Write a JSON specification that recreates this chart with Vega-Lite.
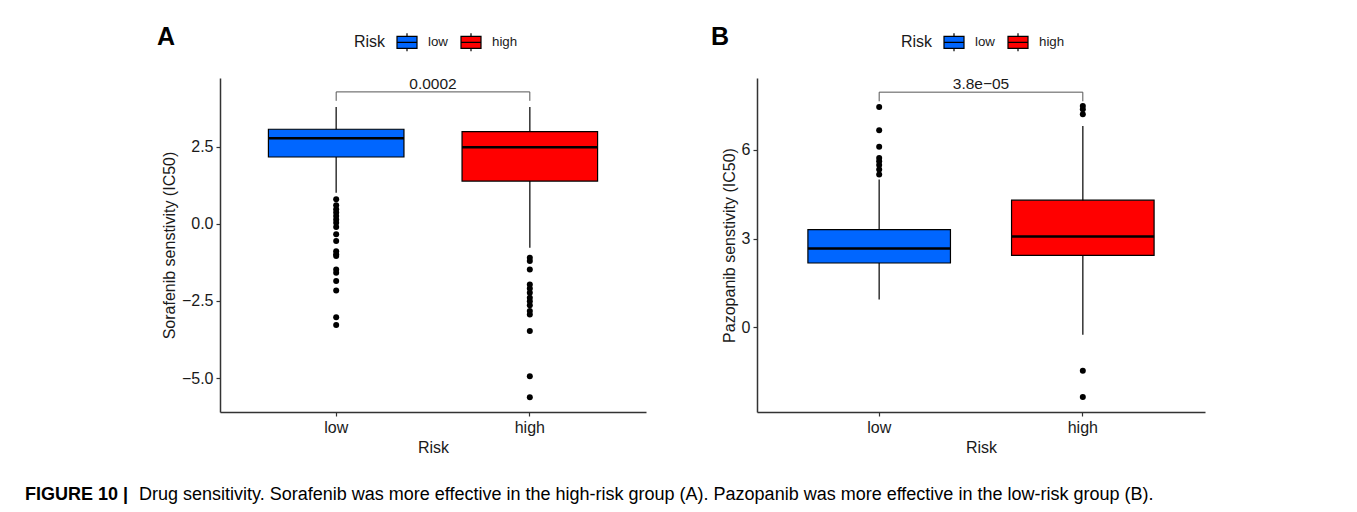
{
  "$schema": "https://vega.github.io/schema/vega-lite/v6.json",
  "background": "white",
  "padding": {"left": 25, "top": 25, "right": 5, "bottom": 0},
  "config": {
    "font": "Liberation Sans",
    "view": {"stroke": null},
    "axis": {"grid": false, "domainColor": "#333333", "domainWidth": 1.5, "tickColor": "#333333", "tickWidth": 1.2, "tickSize": 4, "labelColor": "#1a1a1a", "labelFontSize": 16, "titleFontSize": 16, "titleFontWeight": "normal", "titleColor": "#1a1a1a", "labelPadding": 3},
    "legend": {"orient": "none", "direction": "horizontal", "titleOrient": "left", "titleFontSize": 16, "titleFontWeight": "normal", "titleColor": "#1a1a1a", "labelFontSize": 13.3, "labelColor": "#1a1a1a", "symbolType": "M-1,-0.6H1V0.6H-1Z M-1,0H1 M0,-0.6V-0.9 M0,0.6V0.9", "symbolSize": 400, "symbolStrokeColor": "black", "symbolStrokeWidth": 1.2, "symbolOpacity": 1, "labelOffset": 10, "columnPadding": 10, "titlePadding": 10}
  },
  "datasets": {
    "statsA": [
      {"risk": "low", "lower": 1.0, "q1": 2.16, "median": 2.77, "q3": 3.06, "upper": 3.78},
      {"risk": "high", "lower": -0.78, "q1": 1.38, "median": 2.48, "q3": 2.98, "upper": 3.78}
    ],
    "outA": [
      {"risk": "low", "value": 0.79}, {"risk": "low", "value": 0.6}, {"risk": "low", "value": 0.47}, {"risk": "low", "value": 0.36}, {"risk": "low", "value": 0.25}, {"risk": "low", "value": 0.14}, {"risk": "low", "value": 0.03}, {"risk": "low", "value": -0.11}, {"risk": "low", "value": -0.34}, {"risk": "low", "value": -0.56}, {"risk": "low", "value": -0.89}, {"risk": "low", "value": -0.99}, {"risk": "low", "value": -1.05}, {"risk": "low", "value": -1.48}, {"risk": "low", "value": -1.59}, {"risk": "low", "value": -1.86}, {"risk": "low", "value": -2.16}, {"risk": "low", "value": -3.03}, {"risk": "low", "value": -3.28},
      {"risk": "high", "value": -1.1}, {"risk": "high", "value": -1.21}, {"risk": "high", "value": -1.48}, {"risk": "high", "value": -1.97}, {"risk": "high", "value": -2.1}, {"risk": "high", "value": -2.24}, {"risk": "high", "value": -2.4}, {"risk": "high", "value": -2.51}, {"risk": "high", "value": -2.64}, {"risk": "high", "value": -2.83}, {"risk": "high", "value": -2.94}, {"risk": "high", "value": -3.48}, {"risk": "high", "value": -4.94}, {"risk": "high", "value": -5.62}
    ],
    "brA": [
      {"risk": "low", "y": 3.98, "ord": 1}, {"risk": "low", "y": 4.27, "ord": 2}, {"risk": "high", "y": 4.27, "ord": 3}, {"risk": "high", "y": 3.98, "ord": 4}
    ],
    "pA": [{"risk": "low", "y": 4.27, "label": "0.0002"}],
    "statsB": [
      {"risk": "low", "lower": 0.93, "q1": 2.17, "median": 2.66, "q3": 3.3, "upper": 5.0},
      {"risk": "high", "lower": -0.26, "q1": 2.43, "median": 3.07, "q3": 4.3, "upper": 6.81}
    ],
    "outB": [
      {"risk": "low", "value": 7.46}, {"risk": "low", "value": 6.67}, {"risk": "low", "value": 6.11}, {"risk": "low", "value": 5.73}, {"risk": "low", "value": 5.62}, {"risk": "low", "value": 5.49}, {"risk": "low", "value": 5.34}, {"risk": "low", "value": 5.17},
      {"risk": "high", "value": 7.49}, {"risk": "high", "value": 7.38}, {"risk": "high", "value": 7.21}, {"risk": "high", "value": -1.48}, {"risk": "high", "value": -2.37}
    ],
    "brB": [
      {"risk": "low", "y": 7.65, "ord": 1}, {"risk": "low", "y": 7.96, "ord": 2}, {"risk": "high", "y": 7.96, "ord": 3}, {"risk": "high", "y": 7.65, "ord": 4}
    ],
    "pB": [{"risk": "low", "y": 7.96, "label": "3.8e\u221205"}]
  },
  "title": {"text": "FIGURE 10 |", "orient": "bottom", "anchor": "start", "frame": "bounds", "dx": -114, "fontSize": 18, "fontWeight": "bold", "color": "black", "offset": -18},
  "vconcat": [
    {
      "title": {"text": "Drug sensitivity. Sorafenib was more effective in the high-risk group (A). Pazopanib was more effective in the low-risk group (B).", "orient": "bottom", "anchor": "start", "frame": "bounds", "dx": -18, "fontSize": 18, "fontWeight": "normal", "color": "black", "offset": 31},
      "spacing": 65,
      "resolve": {"scale": {"color": "independent", "x": "independent", "y": "independent"}, "legend": {"color": "independent"}},
      "hconcat": [
        {
          "width": 426,
          "height": 334,
          "title": {"text": "A", "anchor": "start", "frame": "group", "dx": -63, "fontSize": 25, "fontWeight": "bold", "color": "black", "offset": -19},
          "encoding": {
            "x": {"field": "risk", "type": "nominal", "sort": ["low", "high"], "scale": {"domain": ["low", "high"], "paddingInner": 0.3, "paddingOuter": 0.25}, "axis": {"labelAngle": 0, "title": "Risk"}}
          },
          "layer": [
            {
              "data": {"name": "statsA"},
              "mark": {"type": "rule", "color": "#333333", "strokeWidth": 1.5},
              "encoding": {
                "y": {"field": "lower", "type": "quantitative", "scale": {"domain": [-6.1, 4.72], "nice": false, "zero": false}, "axis": {"title": "Sorafenib senstivity (IC50)", "values": [-5, -2.5, 0, 2.5], "format": ".1f"}},
                "y2": {"field": "upper"}
              }
            },
            {
              "data": {"name": "statsA"},
              "mark": {"type": "bar", "stroke": "black", "strokeWidth": 1.2, "opacity": 1},
              "encoding": {
                "y": {"field": "q1", "type": "quantitative", "axis": {"title": "Sorafenib senstivity (IC50)", "values": [-5, -2.5, 0, 2.5], "format": ".1f"}},
                "y2": {"field": "q3"},
                "color": {"field": "risk", "type": "nominal", "scale": {"domain": ["low", "high"], "range": ["#0066FF", "#FF0000"]}, "legend": {"title": "Risk", "legendX": 134, "legendY": -47}}
              }
            },
            {
              "data": {"name": "statsA"},
              "mark": {"type": "bar", "fill": null, "stroke": "black", "strokeWidth": 2.5},
              "encoding": {
                "y": {"field": "median", "type": "quantitative", "axis": {"title": "Sorafenib senstivity (IC50)", "values": [-5, -2.5, 0, 2.5], "format": ".1f"}},
                "y2": {"field": "median"}
              }
            },
            {
              "data": {"name": "outA"},
              "mark": {"type": "point", "filled": true, "color": "black", "size": 36, "opacity": 1},
              "encoding": {
                "y": {"field": "value", "type": "quantitative", "axis": {"title": "Sorafenib senstivity (IC50)", "values": [-5, -2.5, 0, 2.5], "format": ".1f"}}
              }
            },
            {
              "data": {"name": "brA"},
              "mark": {"type": "line", "color": "#555555", "strokeWidth": 1},
              "encoding": {
                "y": {"field": "y", "type": "quantitative", "axis": {"title": "Sorafenib senstivity (IC50)", "values": [-5, -2.5, 0, 2.5], "format": ".1f"}},
                "order": {"field": "ord", "type": "quantitative"}
              }
            },
            {
              "data": {"name": "pA"},
              "mark": {"type": "text", "fontSize": 15.5, "color": "#1a1a1a", "baseline": "alphabetic", "dy": -3},
              "encoding": {
                "x": {"field": "risk", "type": "nominal", "bandPosition": 1.2143},
                "y": {"field": "y", "type": "quantitative", "axis": {"title": "Sorafenib senstivity (IC50)", "values": [-5, -2.5, 0, 2.5], "format": ".1f"}},
                "text": {"field": "label"}
              }
            }
          ]
        },
        {
          "width": 448,
          "height": 334,
          "title": {"text": "B", "anchor": "start", "frame": "group", "dx": -46, "fontSize": 25, "fontWeight": "bold", "color": "black", "offset": -19},
          "encoding": {
            "x": {"field": "risk", "type": "nominal", "sort": ["low", "high"], "scale": {"domain": ["low", "high"], "paddingInner": 0.3, "paddingOuter": 0.25}, "axis": {"labelAngle": 0, "title": "Risk"}}
          },
          "layer": [
            {
              "data": {"name": "statsB"},
              "mark": {"type": "rule", "color": "#333333", "strokeWidth": 1.5},
              "encoding": {
                "y": {"field": "lower", "type": "quantitative", "scale": {"domain": [-2.88, 8.44], "nice": false, "zero": false}, "axis": {"title": "Pazopanib senstivity (IC50)", "values": [0, 3, 6], "format": "d"}},
                "y2": {"field": "upper"}
              }
            },
            {
              "data": {"name": "statsB"},
              "mark": {"type": "bar", "stroke": "black", "strokeWidth": 1.2, "opacity": 1},
              "encoding": {
                "y": {"field": "q1", "type": "quantitative", "axis": {"title": "Pazopanib senstivity (IC50)", "values": [0, 3, 6], "format": "d"}},
                "y2": {"field": "q3"},
                "color": {"field": "risk", "type": "nominal", "scale": {"domain": ["low", "high"], "range": ["#0066FF", "#FF0000"]}, "legend": {"title": "Risk", "legendX": 144, "legendY": -47}}
              }
            },
            {
              "data": {"name": "statsB"},
              "mark": {"type": "bar", "fill": null, "stroke": "black", "strokeWidth": 2.5},
              "encoding": {
                "y": {"field": "median", "type": "quantitative", "axis": {"title": "Pazopanib senstivity (IC50)", "values": [0, 3, 6], "format": "d"}},
                "y2": {"field": "median"}
              }
            },
            {
              "data": {"name": "outB"},
              "mark": {"type": "point", "filled": true, "color": "black", "size": 36, "opacity": 1},
              "encoding": {
                "y": {"field": "value", "type": "quantitative", "axis": {"title": "Pazopanib senstivity (IC50)", "values": [0, 3, 6], "format": "d"}}
              }
            },
            {
              "data": {"name": "brB"},
              "mark": {"type": "line", "color": "#555555", "strokeWidth": 1},
              "encoding": {
                "y": {"field": "y", "type": "quantitative", "axis": {"title": "Pazopanib senstivity (IC50)", "values": [0, 3, 6], "format": "d"}},
                "order": {"field": "ord", "type": "quantitative"}
              }
            },
            {
              "data": {"name": "pB"},
              "mark": {"type": "text", "fontSize": 15.5, "color": "#1a1a1a", "baseline": "alphabetic", "dy": -3},
              "encoding": {
                "x": {"field": "risk", "type": "nominal", "bandPosition": 1.2143},
                "y": {"field": "y", "type": "quantitative", "axis": {"title": "Pazopanib senstivity (IC50)", "values": [0, 3, 6], "format": "d"}},
                "text": {"field": "label"}
              }
            }
          ]
        }
      ]
    }
  ]
}
